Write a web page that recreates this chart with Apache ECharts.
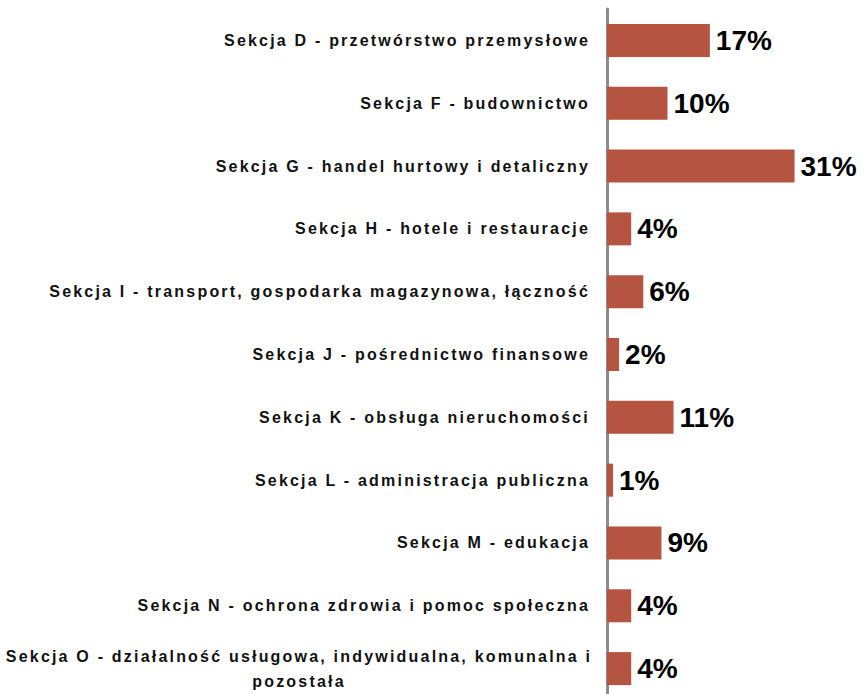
<!DOCTYPE html>
<html>
<head>
<meta charset="utf-8">
<script src="https://cdn.jsdelivr.net/npm/echarts@6/dist/echarts.min.js"></script>
<style>
  html, body { margin: 0; padding: 0; background: #fff; }
  #chart { width: 864px; height: 694px; }
  /* category labels in the original are widely letter-spaced */
  #chart text[style*="16px"] { letter-spacing: 2.2px; }
</style>
</head>
<body>
<div id="chart"></div>
<script>
var categories = [
  'Sekcja D - przetwórstwo przemysłowe',
  'Sekcja F - budownictwo',
  'Sekcja G - handel hurtowy i detaliczny',
  'Sekcja H - hotele i restauracje',
  'Sekcja I - transport, gospodarka magazynowa, łączność',
  'Sekcja J - pośrednictwo finansowe',
  'Sekcja K - obsługa nieruchomości',
  'Sekcja L - administracja publiczna',
  'Sekcja M - edukacja',
  'Sekcja N - ochrona zdrowia i pomoc społeczna',
  'Sekcja O - działalność usługowa, indywidualna, komunalna i\npozostała'
]
var shares = [17, 10, 31, 4, 6, 2, 11, 1, 9, 4, 4]

var chart = echarts.init(document.getElementById('chart'), null, { renderer: 'svg' })

var yData = categories.map(function (c) {
  if (c.indexOf('\n') < 0) return c
  // two-line label is centred in the original
  return {
    value: c,
    textStyle: { align: 'center', padding: [0, 582, 0, 0], lineHeight: 25 }
  }
})

chart.setOption({
  backgroundColor: '#fff',
  animation: false,
  grid: {
    left: 607,
    top: 9,
    width: 242,
    height: 691,
    containLabel: false,
    outerBoundsMode: 'none'
  },
  xAxis: {
    type: 'value',
    min: 0,
    max: 40,
    show: false
  },
  yAxis: {
    type: 'category',
    inverse: true,
    data: yData,
    axisLine: { show: true, lineStyle: { color: '#8c8c8c', width: 3 } },
    axisTick: { show: false },
    splitLine: { show: false },
    axisLabel: {
      interval: 0,
      margin: 17,
      color: '#111',
      fontFamily: 'Liberation Sans, Arial, sans-serif',
      fontWeight: 'bold',
      fontSize: 16
    }
  },
  series: [{
    type: 'bar',
    data: shares,
    barWidth: 33,
    itemStyle: { color: '#b45441' },
    label: {
      show: true,
      position: 'right',
      distance: 6,
      color: '#000',
      fontFamily: 'Liberation Sans, Arial, sans-serif',
      fontWeight: 'bold',
      fontSize: 28,
      formatter: function (p) { return p.value + '%' }
    }
  }]
})
</script>
</body>
</html>
